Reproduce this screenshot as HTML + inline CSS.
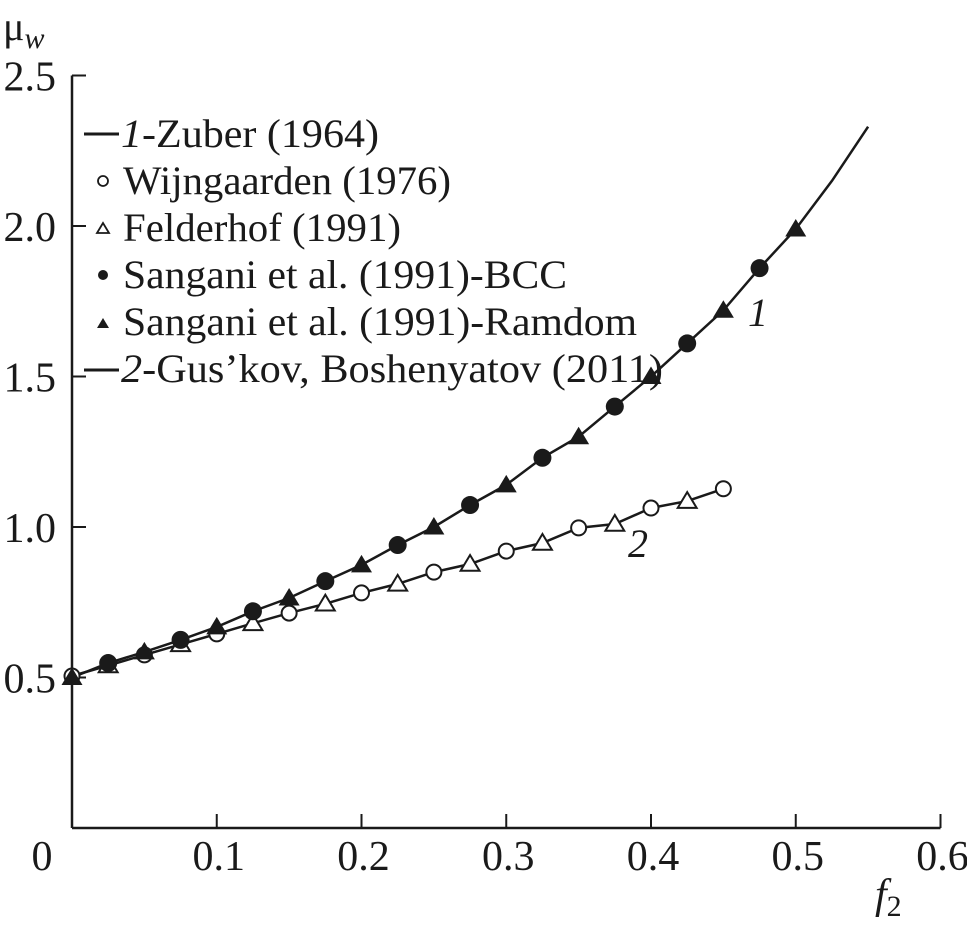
<!DOCTYPE html>
<html><head><meta charset="utf-8"><style>
html,body{margin:0;padding:0;background:#fff;}
svg{display:block;font-family:"Liberation Serif",serif;}
</style></head><body>
<svg width="967" height="925" viewBox="0 0 967 925">
<g id="axes"></g>
<g id="series"></g>
<g id="legend" font-size="40" fill="#1a1a1a">
  <line x1="84" y1="134" x2="119" y2="134" stroke="#1a1a1a" stroke-width="3"/>
  <text x="121" y="147" textLength="258" lengthAdjust="spacingAndGlyphs"><tspan font-style="italic">1</tspan>-Zuber (1964)</text>
  <circle cx="103" cy="181" r="5" fill="#fff" stroke="#1a1a1a" stroke-width="1.8"/>
  <text x="123" y="194" textLength="328" lengthAdjust="spacingAndGlyphs">Wijngaarden (1976)</text>
  <polygon points="103,223 97,233 109,233" fill="#fff" stroke="#1a1a1a" stroke-width="1.8"/>
  <text x="123" y="241" textLength="278" lengthAdjust="spacingAndGlyphs">Felderhof (1991)</text>
  <circle cx="103" cy="275" r="5" fill="#1a1a1a"/>
  <text x="123" y="288" textLength="444" lengthAdjust="spacingAndGlyphs">Sangani et al. (1991)-BCC</text>
  <polygon points="103,318 97,328 109,328" fill="#1a1a1a"/>
  <text x="123" y="335" textLength="514" lengthAdjust="spacingAndGlyphs">Sangani et al. (1991)-Ramdom</text>
  <line x1="84" y1="370" x2="119" y2="370" stroke="#1a1a1a" stroke-width="3"/>
  <text x="121" y="382" textLength="542" lengthAdjust="spacingAndGlyphs"><tspan font-style="italic">2</tspan>-Gus’kov, Boshenyatov (2011)</text>
</g>
<text x="748" y="326" font-size="40" font-style="italic" fill="#1a1a1a">1</text>
<text x="628" y="557" font-size="40" font-style="italic" fill="#1a1a1a">2</text>
<text x="3" y="40" font-size="40" fill="#1a1a1a">μ<tspan font-style="italic" font-size="30" dy="8">w</tspan></text>
<text x="875" y="908" font-size="42" font-style="italic" fill="#1a1a1a">f<tspan font-style="normal" font-size="30" dy="8">2</tspan></text>
<script>
const xTicks=[0.1,0.2,0.3,0.4,0.5,0.6];
const xTickLabels=["0.1","0.2","0.3","0.4","0.5","0.6"];
const yTicks=[0.5,1.0,1.5,2.0,2.5];
const yTickLabels=["0.5","1.0","1.5","2.0","2.5"];
const f1=[0,0.025,0.05,0.075,0.1,0.125,0.15,0.175,0.2,0.225,0.25,0.275,0.3,0.325,0.35,0.375,0.4,0.425,0.45,0.475,0.5];
const mu1=[0.5,0.548,0.585,0.625,0.668,0.72,0.764,0.82,0.874,0.94,1.0,1.073,1.14,1.23,1.30,1.40,1.50,1.61,1.72,1.86,1.99];
const f1Ext=[0.525,0.55];
const mu1Ext=[2.15,2.33];
const f2=[0,0.025,0.05,0.075,0.1,0.125,0.15,0.175,0.2,0.225,0.25,0.275,0.3,0.325,0.35,0.375,0.4,0.425,0.45];
const mu2=[0.505,0.54,0.575,0.61,0.645,0.68,0.714,0.745,0.781,0.811,0.85,0.877,0.92,0.947,0.997,1.01,1.063,1.086,1.127];
const NS='http://www.w3.org/2000/svg';
const X=v=>72+v*1447.5;
const Y=v=>828-v*301;
const ax=document.getElementById('axes'),se=document.getElementById('series');
function mk(t,a,p){const e=document.createElementNS(NS,t);for(const k in a)e.setAttribute(k,a[k]);p.appendChild(e);return e;}
let e=mk('line',{x1:72,y1:Y(2.5),x2:72,y2:828,stroke:'#1a1a1a','stroke-width':2.5},ax);


e=mk('line',{x1:72,y1:828,x2:X(0.6),y2:828,stroke:'#1a1a1a','stroke-width':2.5},ax);


e=mk('text',{x:42,y:870,'font-size':42,'text-anchor':'middle',fill:'#1a1a1a'},ax);e.textContent='0';


xTicks.forEach((v,i)=>{
 let t=mk('line',{x1:X(v),y1:828,x2:X(v),y2:814,stroke:'#1a1a1a','stroke-width':2},ax);
 
 
 let l=mk('text',{x:X(v)+2,y:870,'font-size':42,'text-anchor':'middle',fill:'#1a1a1a'},ax);l.textContent=xTickLabels[i];
 
 
});
yTicks.forEach((v,i)=>{
 let t=mk('line',{x1:72,y1:Y(v),x2:86,y2:Y(v),stroke:'#1a1a1a','stroke-width':2},ax);
 
 
 let l=mk('text',{x:56,y:Y(v)+15,'font-size':42,'text-anchor':'end',fill:'#1a1a1a'},ax);l.textContent=yTickLabels[i];
 
 
});
function path(fs,ms){return fs.map((f,i)=>(i?'L':'M')+X(f).toFixed(1)+','+Y(ms[i]).toFixed(1)).join('');}
e=mk('path',{d:path(f1.concat(f1Ext),mu1.concat(mu1Ext)),fill:'none',stroke:'#1a1a1a','stroke-width':2.5},se);


e=mk('path',{d:path(f2,mu2),fill:'none',stroke:'#1a1a1a','stroke-width':2.5},se);


function tri(x,y,s){return `${x},${y-s} ${x-s*1.05},${y+s*0.75} ${x+s*1.05},${y+s*0.75}`;}
f2.forEach((f,i)=>{
 const x=X(f),y=Y(mu2[i]);let m;
 if(i%2===0){m=mk('circle',{cx:x,cy:y,r:7.5,fill:'#fff',stroke:'#1a1a1a','stroke-width':2},se);}
 else{m=mk('polygon',{points:tri(x,y,9),fill:'#fff',stroke:'#1a1a1a','stroke-width':2},se);}
 
});
f1.forEach((f,i)=>{
 const x=X(f),y=Y(mu1[i]);let m;
 if(i%2===1){m=mk('circle',{cx:x,cy:y,r:9,fill:'#1a1a1a'},se);}
 else{m=mk('polygon',{points:tri(x,y,10),fill:'#1a1a1a'},se);}
 
});
</script>
</svg>
</body></html>
